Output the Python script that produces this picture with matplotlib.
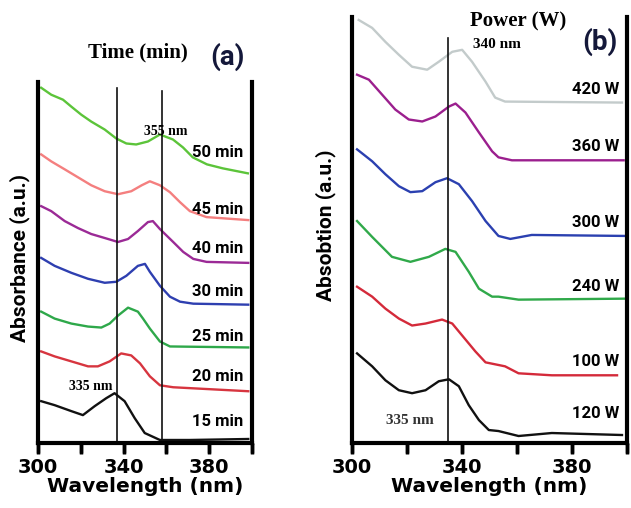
import matplotlib
matplotlib.use("Agg")
import matplotlib.pyplot as plt
import matplotlib.transforms as mtransforms
from matplotlib.lines import Line2D, TICKDOWN

# ---- panel (a): reaction time series (wavelength nm, absorbance a.u.) ----
wl_50 = [301.5, 306.2, 311.7, 315.6, 320.2, 324.9, 331.2, 336.6, 341.3, 345.9,
         351.4, 357.0, 363.1, 367.8, 372.4, 379.0, 386.4, 398.1]
ab_50 = [3.55, 3.48, 3.43, 3.36, 3.28, 3.21, 3.13, 3.04, 2.99, 2.98,
         3.01, 3.08, 3.03, 2.95, 2.85, 2.78, 2.74, 2.69]
wl_45 = [301.5, 306.2, 312.5, 318.7, 324.9, 331.2, 337.4, 343.6, 348.5, 352.3,
         357.0, 361.7, 366.4, 371.0, 378.8, 398.3]
ab_45 = [2.88, 2.81, 2.73, 2.65, 2.57, 2.51, 2.48, 2.51, 2.57, 2.61,
         2.57, 2.50, 2.40, 2.31, 2.25, 2.22]
wl_40 = [301.5, 306.2, 312.5, 318.7, 324.9, 331.2, 337.4, 342.1, 346.7, 351.4,
         353.7, 357.0, 363.2, 367.9, 372.6, 378.8, 398.3]
ab_40 = [2.36, 2.31, 2.21, 2.14, 2.08, 2.04, 2.00, 2.03, 2.11, 2.20,
         2.21, 2.13, 2.00, 1.90, 1.83, 1.80, 1.79]
wl_30 = [301.5, 307.8, 315.6, 323.4, 331.2, 336.6, 341.3, 346.7, 350.0, 352.3,
         357.0, 361.7, 366.4, 372.6, 398.3]
ab_30 = [1.84, 1.76, 1.69, 1.63, 1.59, 1.60, 1.66, 1.76, 1.78, 1.70,
         1.56, 1.45, 1.40, 1.38, 1.37]
wl_25 = [301.5, 307.8, 315.6, 323.4, 329.6, 333.5, 337.4, 342.1, 346.7, 349.1,
         352.3, 357.0, 361.7, 398.3]
ab_25 = [1.30, 1.23, 1.18, 1.15, 1.14, 1.18, 1.26, 1.34, 1.30, 1.23,
         1.13, 1.00, 0.95, 0.94]
wl_20 = [301.5, 307.8, 315.6, 323.4, 328.0, 333.5, 338.9, 343.6, 347.7, 352.3,
         357.0, 363.2, 398.3]
ab_20 = [0.90, 0.85, 0.80, 0.75, 0.75, 0.80, 0.88, 0.86, 0.78, 0.65,
         0.56, 0.54, 0.50]
wl_15 = [301.5, 307.8, 315.6, 321.0, 326.5, 331.9, 335.8, 340.5, 345.2, 349.9,
         357.0, 371.0, 398.3]
ab_15 = [0.40, 0.36, 0.30, 0.26, 0.35, 0.43, 0.48, 0.40, 0.23, 0.08,
         0.01, 0.01, 0.02]

time_labels = ["50 min", "45 min", "40 min", "30 min", "25 min", "20 min", "15 min"]
time_label_y = [2.90, 2.33, 1.93, 1.50, 1.05, 0.65, 0.20]

# ---- panel (b): microwave power series ----
wl_420 = [302.4, 307.3, 312.1, 317.0, 321.8, 327.3, 331.5, 336.4, 340.0, 343.6,
          348.5, 352.0, 355.6, 398.1]
ab_420 = [4.23, 4.15, 4.01, 3.88, 3.76, 3.73, 3.81, 3.91, 3.93, 3.81,
          3.61, 3.45, 3.41, 3.40]
wl_360 = [301.8, 306.1, 310.9, 315.7, 320.6, 325.5, 330.3, 335.2, 337.6, 341.2,
          346.1, 350.9, 353.2, 358.1, 398.7]
ab_360 = [3.68, 3.63, 3.48, 3.33, 3.23, 3.21, 3.26, 3.36, 3.39, 3.30,
          3.10, 2.91, 2.85, 2.82, 2.82]
wl_300 = [301.8, 307.3, 312.1, 317.0, 321.2, 325.5, 330.3, 334.5, 338.8, 343.6,
          348.5, 353.2, 357.5, 365.3, 399.3]
ab_300 = [2.93, 2.81, 2.68, 2.56, 2.50, 2.51, 2.60, 2.64, 2.58, 2.41,
          2.21, 2.06, 2.03, 2.07, 2.06]
wl_240 = [301.8, 307.3, 314.5, 321.2, 327.9, 333.9, 337.6, 342.4, 346.1, 350.9,
          353.2, 360.5, 399.3]
ab_240 = [2.21, 2.05, 1.85, 1.80, 1.85, 1.93, 1.90, 1.70, 1.53, 1.45,
          1.45, 1.42, 1.43]
wl_100 = [301.8, 307.3, 312.1, 317.0, 321.8, 326.7, 332.7, 336.4, 340.0, 344.8,
          348.5, 355.6, 360.5, 372.6, 396.3]
ab_100 = [1.55, 1.45, 1.33, 1.23, 1.16, 1.18, 1.22, 1.18, 1.06, 0.90,
          0.79, 0.75, 0.68, 0.66, 0.66]
wl_120 = [301.8, 307.3, 312.1, 317.0, 321.8, 326.7, 331.5, 335.2, 338.8, 342.4,
          346.1, 349.7, 353.2, 360.5, 372.6, 398.1]
ab_120 = [0.88, 0.75, 0.61, 0.51, 0.48, 0.51, 0.60, 0.62, 0.55, 0.36,
          0.21, 0.11, 0.10, 0.05, 0.08, 0.06]

power_labels = ["420 W", "360 W", "300 W", "240 W", "100 W", "120 W"]
power_label_y = [3.53, 2.96, 2.20, 1.55, 0.80, 0.28]

xticks = [300, 320, 340, 360, 380, 400]
xticklabels = ["300", "", "340", "", "380", ""]

cols_a = ["#5cc43a", "#f47f7f", "#9b2a96", "#2e3fb0", "#2ea84a", "#d7353f", "#111111"]
cols_b = ["#c3cbcb", "#9b1f8e", "#2b40b0", "#30a94a", "#d42a3a", "#111111"]

fig = plt.figure(figsize=(6.31, 5.08), dpi=100)
ax_a = fig.add_axes([0.0602, 0.128, 0.339, 0.711])
ax_b = fig.add_axes([0.558, 0.128, 0.436, 0.8386])

# panel a
series_a = [(wl_50, ab_50), (wl_45, ab_45), (wl_40, ab_40), (wl_30, ab_30),
            (wl_25, ab_25), (wl_20, ab_20), (wl_15, ab_15)]
for (x, y), c in zip(series_a, cols_a):
    ax_a.plot(x, y, color=c, lw=1.7, solid_joinstyle="round")
ax_a.plot([336.9, 336.9], [0, 3.55], color="#111111", lw=1.2)
ax_a.plot([357.9, 357.9], [0, 3.52], color="#111111", lw=1.2)
for lab, y in zip(time_labels, time_label_y):
    ax_a.text(384, y, lab, fontsize=12, fontweight="bold", family="Roboto",
              ha="center", va="center")
ax_a.text(359.8, 3.11, "355 nm", fontsize=10, fontweight="bold",
          family="Liberation Serif", ha="center", va="center")
ax_a.text(324.8, 0.55, "335 nm", fontsize=10, fontweight="bold",
          family="Liberation Serif", ha="center", va="center")
ax_a.text(346.7, 3.90, "Time (min)", fontsize=15, fontweight="bold",
          family="Liberation Serif", ha="center", va="center", clip_on=False)
ax_a.text(388.8, 3.86, "(a)", fontsize=20, fontweight="bold", family="Roboto",
          color="#14183a", ha="center", va="center", clip_on=False)

# panel b
series_b = [(wl_420, ab_420), (wl_360, ab_360), (wl_300, ab_300),
            (wl_240, ab_240), (wl_100, ab_100), (wl_120, ab_120)]
for (x, y), c in zip(series_b, cols_b):
    ax_b.plot(x, y, color=c, lw=1.7, solid_joinstyle="round")
ax_b.plot([334.9, 334.9], [0, 4.05], color="#111111", lw=1.2)
for lab, y in zip(power_labels, power_label_y):
    ax_b.text(388.5, y, lab, fontsize=12, fontweight="bold", family="Roboto",
              ha="center", va="center")
ax_b.text(321.1, 0.21, "335 nm", fontsize=11, fontweight="bold",
          family="Liberation Serif", color="#333333", ha="center", va="center")
ax_b.text(352.7, 3.98, "340 nm", fontsize=11, fontweight="bold",
          family="Liberation Serif", ha="center", va="center")
ax_b.text(360.4, 4.21, "Power (W)", fontsize=15, fontweight="bold",
          family="Liberation Serif", ha="center", va="center", clip_on=False)
ax_b.text(390.2, 4.01, "(b)", fontsize=20, fontweight="bold", family="Roboto",
          color="#14183a", ha="center", va="center", clip_on=False)

fig.text(20 / 631, 1 - 258 / 508, "Absorbance (a.u.)", rotation=90,
         fontsize=15, fontweight="bold", family="Roboto",
         ha="center", va="center")
fig.text(326 / 631, 1 - 225 / 508, "Absobtion (a.u.)", rotation=90,
         fontsize=15, fontweight="bold", family="Roboto",
         ha="center", va="center")

# axes styling
for ax, ytop in [(ax_a, 3.61), (ax_b, 4.26)]:
    ax.set_xlim(300, 400)
    ax.set_ylim(-0.02, ytop)
    ax.spines["top"].set_visible(False)
    for s in ["left", "right", "bottom"]:
        ax.spines[s].set_linewidth(3)
    ax.set_yticks([])
    ax.set_xticks(xticks)
    ax.set_xticklabels(xticklabels, fontsize=14, fontweight="bold")
    ax.tick_params(axis="x", direction="out", length=7, width=2.5, pad=4)
    ax.set_xlabel("Wavelength (nm)", fontsize=14.5, fontweight="bold",
                  labelpad=0)
    # tick marks as figure-level artists, drawn on top of everything
    trans = mtransforms.blended_transform_factory(ax.transData, ax.transAxes)
    fig.add_artist(Line2D(xticks, [0] * len(xticks), transform=trans,
                          ls="none", marker=TICKDOWN, markersize=8,
                          markeredgewidth=2.5, color="black", zorder=10))

fig.savefig("out.png", dpi=100)
